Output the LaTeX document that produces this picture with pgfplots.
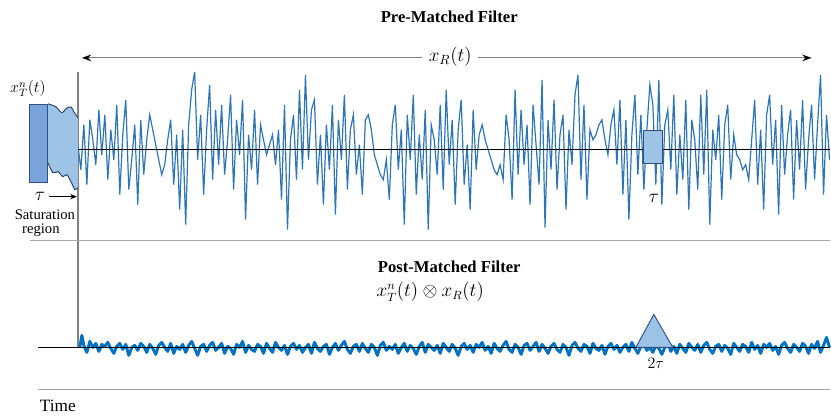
\documentclass[border=0pt]{standalone}
\usepackage{pgfplots}
\pgfplotsset{compat=1.18}
\usepackage{fontspec}
\setmainfont{Liberation Serif}
\usetikzlibrary{arrows.meta}
\definecolor{noiseA}{HTML}{2E75B6}
\definecolor{noiseB}{HTML}{0070C0}
\definecolor{lightfill}{HTML}{9DC3E6}
\definecolor{midfill}{HTML}{7AA3DC}
\definecolor{edge}{HTML}{2F4F7F}
\begin{document}
\begin{tikzpicture}
\begin{axis}[
  width=623.25pt, height=312.75pt, scale only axis,
  xmin=0, xmax=831, ymin=0, ymax=417, y dir=reverse,
  hide axis, clip=false,
]
\path (axis cs:0,0) rectangle (axis cs:831,417);
% titles
\node[font=\fontsize{12.5}{14}\selectfont\bfseries] at (axis cs:450,17) {Pre-Matched Filter};
\node[font=\fontsize{12.5}{14}\selectfont\bfseries] at (axis cs:450,267) {Post-Matched Filter};
\node[font=\fontsize{13.5}{15}\selectfont] at (axis cs:431,292) {$x_T^n(t)\otimes x_R(t)$};
% arrow x_R
\draw[gray, line width=0.8pt, {Stealth[length=7pt,width=5pt,black]}-{Stealth[length=7pt,width=5pt,black]}] (axis cs:82,58) -- (axis cs:813,58);
\node[fill=white, inner sep=5pt, font=\fontsize{14}{16}\selectfont] at (axis cs:451,57) {$x_R(t)$};
% frame lines
\draw[gray, line width=1.1pt] (axis cs:78,72) -- (axis cs:78,348);
\draw[gray!70, line width=0.9pt] (axis cs:30,241) -- (axis cs:831,241);
\draw[gray!70, line width=0.9pt] (axis cs:38,390) -- (axis cs:831,390);
% top noise
\addplot[noiseA, line width=0.9pt, mark=none, y filter/.expression={150-y}] coordinates {
(78,5)(81,-20)(84,25)(87,-35)(90,30)(93,10)(96,-15)(99,40)(102,-5)(105,35)(108,-30)(111,20)
(114,-10)(117,45)(120,-45)(123,15)(126,50)(129,-40)(132,-10)(135,25)(138,-55)(141,30)(144,-25)(147,10)
(150,35)(153,20)(156,5)(159,-10)(162,-25)(165,-15)(168,10)(171,30)(174,-35)(177,15)(180,-60)(183,20)
(186,-75)(189,25)(192,60)(195,78)(198,-10)(201,35)(204,-45)(207,20)(210,65)(213,-30)(216,40)(219,-15)
(222,45)(225,-25)(228,10)(231,55)(234,-40)(237,30)(240,-5)(243,50)(246,-70)(249,15)(252,-20)(255,40)
(258,-35)(261,25)(264,10)(267,-5)(270,5)(273,15)(276,-15)(279,20)(282,-50)(285,45)(288,-80)(291,10)
(294,35)(297,-30)(300,60)(303,-20)(306,75)(309,-10)(312,40)(315,50)(318,-35)(321,15)(324,-55)(327,25)
(330,-20)(333,45)(336,-65)(339,30)(342,-10)(345,55)(348,-40)(351,20)(354,35)(357,-25)(360,5)(363,-45)
(366,30)(369,35)(372,20)(375,-5)(378,-15)(381,-25)(384,-30)(387,-10)(390,-50)(393,25)(396,45)(399,-20)
(402,20)(405,-75)(408,35)(411,-10)(414,55)(417,-45)(420,15)(423,-30)(426,40)(429,-80)(432,25)(435,10)
(438,-25)(441,45)(444,-40)(447,60)(450,-15)(453,30)(456,-55)(459,20)(462,50)(465,-35)(468,5)(471,-60)
(474,40)(477,-20)(480,15)(483,25)(486,10)(489,0)(492,-10)(495,-20)(498,-25)(501,-15)(504,-30)(507,35)
(510,10)(513,-50)(516,60)(519,-25)(522,40)(525,-15)(528,25)(531,-55)(534,45)(537,5)(540,-35)(543,70)
(546,-78)(549,30)(552,-20)(555,50)(558,-40)(561,15)(564,35)(567,-60)(570,20)(573,-15)(576,55)(579,75)
(582,-30)(585,45)(588,-50)(591,20)(594,10)(597,15)(600,25)(603,30)(606,10)(609,-5)(612,25)(615,40)
(618,-15)(621,50)(624,-45)(627,30)(630,-70)(633,15)(636,55)(639,-25)(642,35)(645,-40)(648,20)(651,65)
(654,45)(657,-35)(660,70)(663,-55)(666,25)(669,40)(672,-20)(675,55)(678,-45)(681,15)(684,-30)(687,50)
(690,-60)(693,30)(696,10)(699,-40)(702,55)(705,-25)(708,60)(711,-75)(714,20)(717,-10)(720,35)(723,-50)
(726,25)(729,45)(732,-30)(735,15)(738,-5)(741,-10)(744,-20)(747,-15)(750,-30)(753,10)(756,50)(759,-35)
(762,20)(765,-60)(768,35)(771,55)(774,-15)(777,30)(780,-65)(783,45)(786,-25)(789,15)(792,40)(795,-50)
(798,30)(801,-20)(804,50)(807,-40)(810,10)(813,45)(816,-30)(819,25)(822,75)(825,-45)(828,35)(831,-10)
};
% bottom noise
\addplot[noiseB, line width=2.2pt, mark=none, line join=round, y filter/.expression={350-y}] coordinates {
(80,2)(82,14)(84,4)(87,-3)(90,8)(93,2)(96,6)(99,-2)(102,5)(105,3)(108,7)(111,1)
(114,-4)(117,3)(120,6)(123,0)(126,5)(129,-6)(132,2)(135,4)(138,-1)(141,6)(144,3)(147,-3)
(150,5)(153,1)(156,-5)(159,4)(162,7)(165,2)(168,-2)(171,6)(174,-4)(177,3)(180,0)(183,5)
(186,-3)(189,4)(192,8)(195,1)(198,-6)(201,3)(204,5)(207,-2)(210,4)(213,7)(216,-1)(219,2)
(222,6)(225,-4)(228,3)(231,1)(234,-5)(237,5)(240,2)(243,8)(246,-3)(249,4)(252,0)(255,-2)
(258,5)(261,3)(264,-4)(267,6)(270,1)(273,-3)(276,7)(279,2)(282,-1)(285,4)(288,-5)(291,3)
(294,6)(297,0)(300,4)(303,-3)(306,2)(309,5)(312,-4)(315,7)(318,1)(321,-2)(324,3)(327,5)
(330,-5)(333,2)(336,6)(339,-1)(342,4)(345,8)(348,0)(351,-4)(354,3)(357,5)(360,-2)(363,6)
(366,1)(369,-3)(372,5)(375,2)(378,-6)(381,4)(384,7)(387,-1)(390,3)(393,0)(396,5)(399,-4)
(402,2)(405,6)(408,-2)(411,4)(414,1)(417,-5)(420,3)(423,7)(426,-3)(429,5)(432,2)(435,-1)
(438,4)(441,-4)(444,6)(447,2)(450,-2)(453,5)(456,1)(459,-6)(462,3)(465,6)(468,0)(471,4)
(474,-3)(477,5)(480,2)(483,7)(486,-1)(489,3)(492,-4)(495,6)(498,1)(501,-2)(504,4)(507,8)
(510,0)(513,-3)(516,5)(519,2)(522,-5)(525,4)(528,6)(531,-1)(534,3)(537,7)(540,-2)(543,5)
(546,1)(549,-4)(552,3)(555,6)(558,0)(561,-3)(564,5)(567,2)(570,-6)(573,4)(576,7)(579,1)
(582,-2)(585,5)(588,3)(591,-4)(594,6)(597,1)(600,-1)(603,4)(606,-5)(609,3)(612,6)(615,0)
(618,4)(621,-3)(624,2)(627,5)(630,-2)(633,7)(636,1)(639,-4)(642,3)(645,5)(648,-1)(651,2)
(654,-3)(657,4)(660,1)(663,-5)(666,2)(669,6)(672,-2)(675,3)(678,-4)(681,5)(684,1)(687,-3)
(690,6)(693,2)(696,-1)(699,5)(702,-3)(705,4)(708,7)(711,0)(714,-4)(717,3)(720,5)(723,-2)
(726,4)(729,1)(732,-5)(735,6)(738,2)(741,-2)(744,5)(747,3)(750,-3)(753,7)(756,0)(759,4)
(762,-4)(765,5)(768,2)(771,6)(774,-1)(777,3)(780,-5)(783,4)(786,7)(789,1)(792,-3)(795,5)
(798,2)(801,-2)(804,6)(807,3)(810,-4)(813,5)(816,1)(819,8)(822,-3)(825,4)(828,12)(831,2)
};
% baselines
\draw[black, line width=0.9pt] (axis cs:78,150) -- (axis cs:831,150);
\draw[black, line width=0.9pt] (axis cs:38,348) -- (axis cs:831,348);
% left saturation shapes
\filldraw[fill=lightfill, draw=none] (axis cs:48,104) -- plot[smooth] coordinates {(axis cs:48,104) (axis cs:56,107) (axis cs:62,113) (axis cs:66,109) (axis cs:71,107) (axis cs:74,112) (axis cs:78,118)} -- (axis cs:78,188) -- plot[smooth] coordinates {(axis cs:78,188) (axis cs:75,190) (axis cs:72,184) (axis cs:67,175) (axis cs:63,177) (axis cs:58,172) (axis cs:53,173) (axis cs:48,163)} -- cycle;
\draw[edge!80!black, line width=0.7pt] plot[smooth] coordinates {(axis cs:48,104) (axis cs:56,107) (axis cs:62,113) (axis cs:66,109) (axis cs:71,107) (axis cs:74,112) (axis cs:78,118)};
\draw[edge!80!black, line width=0.7pt] plot[smooth] coordinates {(axis cs:78,188) (axis cs:75,190) (axis cs:72,184) (axis cs:67,175) (axis cs:63,177) (axis cs:58,172) (axis cs:53,173) (axis cs:48,163)};
\filldraw[fill=midfill, draw=edge, line width=0.7pt] (axis cs:30,105) rectangle (axis cs:48,183);
\node[font=\fontsize{12}{14}\selectfont] at (axis cs:28,89) {$x_T^n(t)$};
% tau arrow and labels
\node[font=\fontsize{14}{16}\selectfont] at (axis cs:40,197) {$\tau$};
\draw[black, line width=0.6pt, -{Stealth[length=5pt,width=4pt]}] (axis cs:49,197) -- (axis cs:77,197);
\node[font=\fontsize{11}{13}\selectfont] at (axis cs:45,215) {Saturation};
\node[font=\fontsize{11}{13}\selectfont] at (axis cs:41,231) {region};
% small rectangle on top signal
\filldraw[fill=lightfill, draw=edge, line width=0.7pt] (axis cs:645,131) rectangle (axis cs:664,164);
\node[font=\fontsize{14}{16}\selectfont] at (axis cs:655,199) {$\tau$};
% triangle
\filldraw[fill=lightfill, draw=edge, line width=0.7pt] (axis cs:637,348) -- (axis cs:655,315) -- (axis cs:674,348) -- cycle;
\node[font=\fontsize{13}{15}\selectfont] at (axis cs:657,364) {$2\tau$};
% time
\node[font=\fontsize{13}{15}\selectfont] at (axis cs:58,407) {Time};
\end{axis}
\end{tikzpicture}
\end{document}
